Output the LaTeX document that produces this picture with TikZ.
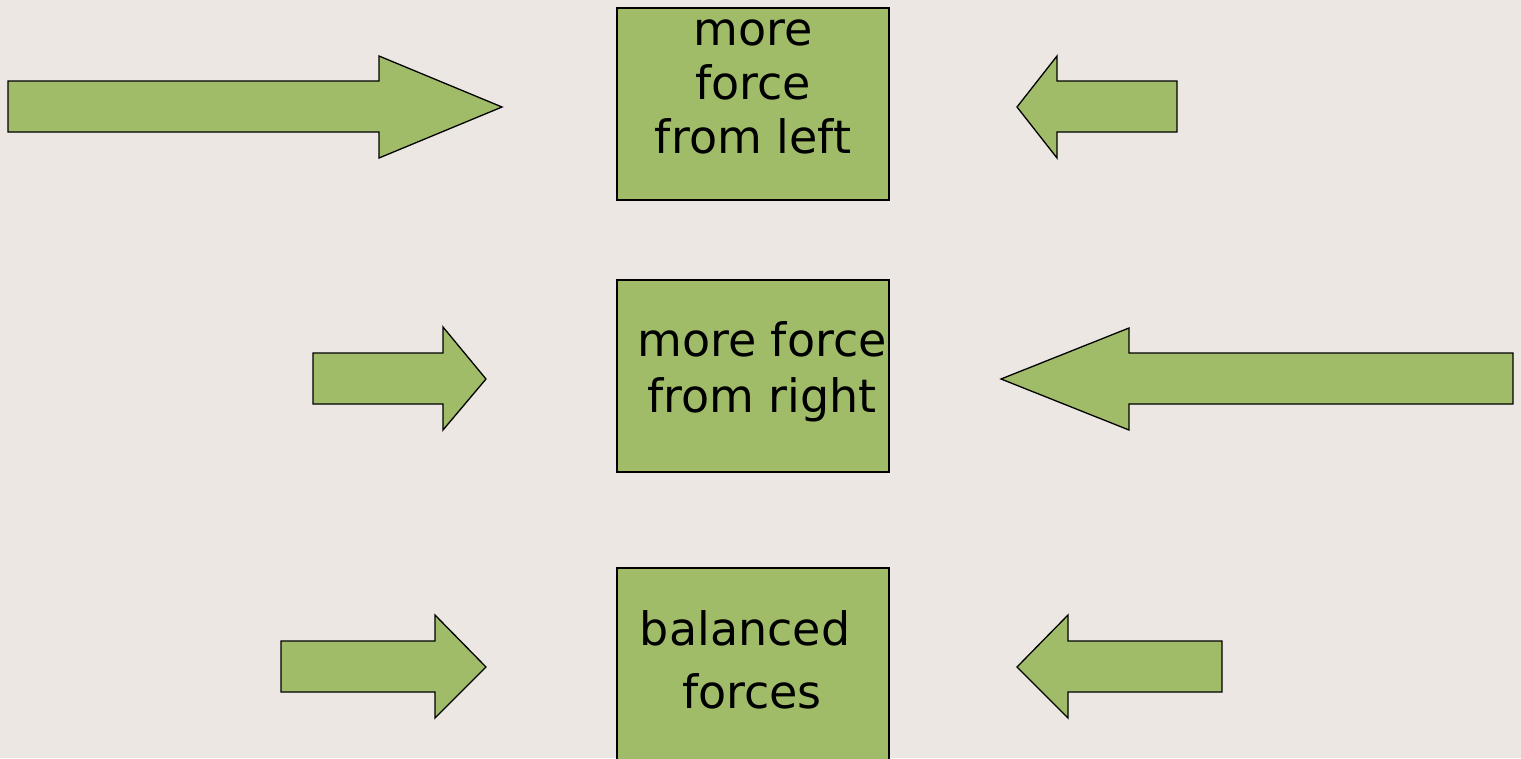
\documentclass[tikz,border=0pt]{standalone}
\usepackage{fontspec}
\setmainfont{DejaVu Sans}
\definecolor{bg}{HTML}{ECE7E3}
\definecolor{grn}{HTML}{A1BC69}
\begin{document}
\begin{tikzpicture}[x=1pt,y=-1pt,
  box/.style={draw=black,line width=1.6pt,fill=grn},
  arr/.style={draw=black,line width=1.3pt,fill=grn,line join=miter},
  lbl/.style={font=\fontsize{46}{56}\selectfont,inner sep=0pt,anchor=base}]
\useasboundingbox (0,0) rectangle (1521,758);
\fill[bg] (0,0) rectangle (1521,758);
\begin{scope}
\clip (0,0) rectangle (1521,758);
% boxes
\draw[box] (617,8) rectangle (889,200);
\node[lbl] (t1a) at (753,45) {more};
\node[lbl] (t1b) at (753,99) {force};
\node[lbl] (t1c) at (753,153) {from left};
\draw[box] (617,280) rectangle (889,472);
\node[lbl] (t2a) at (762,356) {more force};
\node[lbl] (t2b) at (762,412) {from right};
\draw[box] (617,568) rectangle (889,770);
\node[lbl] (t3a) at (745,645) {balanced};
\node[lbl] (t3b) at (752,708) {forces};
% arrows
\draw[arr] (8,81) -- (379,81) -- (379,56) -- (502,107) -- (379,158) -- (379,132) -- (8,132) -- cycle;
\draw[arr] (1177,81) -- (1057,81) -- (1057,56) -- (1017,107) -- (1057,158) -- (1057,132) -- (1177,132) -- cycle;
\draw[arr] (313,353) -- (443,353) -- (443,327) -- (486,379) -- (443,430) -- (443,404) -- (313,404) -- cycle;
\draw[arr] (1513,353) -- (1129,353) -- (1129,328) -- (1001,379) -- (1129,430) -- (1129,404) -- (1513,404) -- cycle;
\draw[arr] (281,641) -- (435,641) -- (435,615) -- (486,667) -- (435,718) -- (435,692) -- (281,692) -- cycle;
\draw[arr] (1222,641) -- (1068,641) -- (1068,615) -- (1017,667) -- (1068,718) -- (1068,692) -- (1222,692) -- cycle;
\end{scope}
\end{tikzpicture}
\end{document}
